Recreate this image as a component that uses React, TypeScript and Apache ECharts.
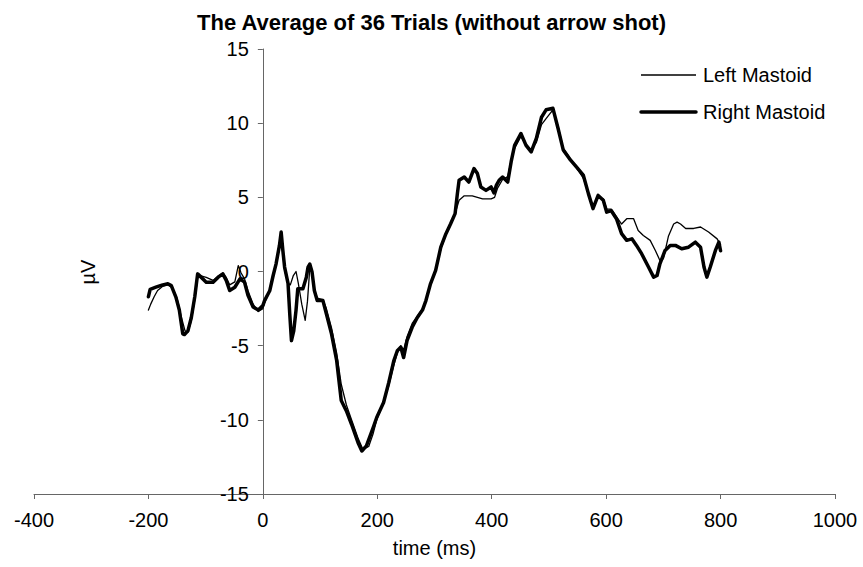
import React, { useEffect, useRef } from "react";
import * as echarts from "echarts";

const titleText = "The Average of 36 Trials (without arrow shot)";
const xName = "time (ms)";
const yName = "µV";
const seriesNames = ["Left Mastoid", "Right Mastoid"];

const leftTimes = [
  -200, -196, -190, -184, -175, -166, -158, -150, -143, -136, -131, -125, -119, -114, -108, -99, -87, -78, -70, -64,
  -58, -49, -43, -38, -32, -26, -17, -8, 0, 3, 12, 18, 23, 29, 32, 35, 38, 44, 48, 53, 58, 62, 68, 74, 78, 82, 86, 90,
  95, 105, 111, 120, 129, 137, 146, 155, 167, 175, 185, 193, 199, 211, 220, 229, 235, 241, 246, 252, 261, 270, 279,
  285, 293, 302, 311, 320, 328, 336, 343, 352, 366, 384, 399, 405, 410, 419, 428, 434, 440, 451, 460, 469, 478, 487,
  495, 507, 516, 525, 536, 548, 560, 569, 577, 586, 595, 601, 609, 618, 627, 636, 648, 656, 665, 677, 686, 694, 700,
  709, 718, 724, 730, 739, 753, 765, 779, 794, 800,
];
const leftValues = [
  -2.6, -2.2, -1.7, -1.28, -1.0, -0.9, -1.1, -1.8, -3.0, -4.0, -4.1, -3.3, -1.9, -0.4, -0.3, -0.4, -0.6, -0.3, -0.1,
  -0.4, -0.9, -0.7, 0.4, -0.1, -0.5, -1.3, -2.2, -2.7, -2.5, -2.1, -1.3, -0.4, 0.4, 1.6, 2.5, 1.3, 0.1, -0.8, -0.9,
  -0.3, 0.0, -0.8, -2.2, -3.3, -2.0, 0.2, -0.1, -1.2, -1.8, -1.9, -2.5, -3.8, -5.5, -7.6, -9.0, -10.0, -11.3, -12.0,
  -11.8, -10.9, -10.0, -8.8, -7.7, -6.3, -5.5, -5.0, -5.3, -4.4, -3.5, -3.0, -2.5, -2.0, -0.9, 0.0, 1.5, 2.5, 3.2, 3.9,
  4.8, 5.1, 5.1, 4.9, 4.9, 5.0, 5.6, 6.2, 6.4, 7.5, 8.3, 9.1, 8.6, 8.2, 8.7, 9.9, 10.3, 10.9, 9.8, 8.3, 7.7, 7.0, 6.3,
  5.3, 4.4, 5.0, 4.9, 4.2, 4.2, 3.7, 3.2, 3.56, 3.56, 2.77, 2.43, 2.1, 1.42, 0.74, 0.86, 2.4, 3.2, 3.33, 3.2, 2.9, 2.9,
  3.0, 2.66, 2.2, 1.8,
];

const rightTimes = [
  -200, -197, -187, -175, -166, -160, -152, -146, -140, -137, -131, -125, -119, -114, -108, -99, -87, -78, -70, -64,
  -58, -49, -40, -32, -26, -17, -8, 0, 3, 12, 18, 23, 29, 32, 35, 38, 44, 47, 50, 54, 58, 61, 70, 76, 79, 82, 86, 90,
  95, 105, 111, 120, 129, 137, 146, 155, 167, 173, 181, 193, 199, 211, 220, 229, 235, 241, 246, 252, 261, 270, 279,
  285, 293, 302, 311, 320, 328, 336, 340, 343, 352, 360, 369, 375, 381, 390, 399, 404, 408, 413, 419, 428, 434, 440,
  451, 460, 469, 478, 487, 495, 507, 516, 525, 536, 548, 560, 569, 577, 586, 595, 601, 609, 618, 627, 636, 645, 653,
  662, 674, 683, 689, 694, 703, 712, 721, 732, 744, 756, 765, 771, 776, 782, 791, 797, 800,
];
const rightValues = [
  -1.7, -1.2, -1.06, -0.9, -0.83, -0.95, -1.73, -2.6, -4.2, -4.25, -4.0, -3.1, -1.7, -0.16, -0.38, -0.72, -0.72, -0.38,
  -0.16, -0.6, -1.28, -1.06, -0.5, -0.72, -1.6, -2.4, -2.6, -2.3, -1.96, -1.3, -0.27, 0.5, 1.76, 2.66, 1.4, 0.3, -0.8,
  -2.86, -4.66, -4.0, -2.6, -1.17, -1.17, -0.38, 0.3, 0.5, -0.04, -1.28, -1.96, -1.96, -2.86, -4.2, -6.0, -8.7, -9.4,
  -10.3, -11.6, -12.1, -11.75, -10.5, -9.84, -8.83, -7.5, -6.0, -5.34, -5.1, -5.8, -4.66, -3.76, -3.1, -2.6, -1.96,
  -0.83, 0.07, 1.64, 2.55, 3.2, 3.9, 5.25, 6.15, 6.37, 6.03, 6.94, 6.6, 5.7, 5.47, 5.7, 5.3, 5.8, 6.15, 6.37, 6.03, 7.4,
  8.5, 9.3, 8.5, 8.06, 8.97, 10.4, 10.9, 11.0, 9.64, 8.2, 7.6, 7.05, 6.5, 5.25, 4.24, 5.13, 4.8, 4.0, 4.1, 3.56, 2.55,
  2.1, 2.2, 1.76, 1.2, 0.3, -0.38, -0.27, 0.52, 1.42, 1.76, 1.76, 1.53, 1.64, 1.98, 1.64, 0.3, -0.38, 0.3, 1.42, 1.98,
  1.4,
];

const FONT = "'Liberation Sans', Arial, sans-serif";
const X_MIN = -400;
const X_MAX = 1000;
const GRID_LEFT = 34;
const GRID_RIGHT = 28;
const WIDTH = 863;
const THIN = 1.3;
const THICK = 3.5;

export default function App() {
  const ref = useRef<HTMLDivElement>(null);
  useEffect(() => {
    if (!ref.current) return;
    const chart = echarts.init(ref.current, null, { renderer: "svg" });
    const axisColor = "#666";
    const gridW = WIDTH - GRID_LEFT - GRID_RIGHT;
    const yOffset = -((0 - X_MIN) / (X_MAX - X_MIN)) * gridW;
    chart.setOption({
      animation: false,
      backgroundColor: "#fff",
      title: {
        text: titleText,
        left: "center",
        top: 6,
        textStyle: { fontFamily: FONT, fontSize: 22, fontWeight: "bold", color: "#000" },
      },
      grid: {
        left: GRID_LEFT,
        right: GRID_RIGHT,
        top: 49,
        bottom: 73,
        containLabel: false,
        outerBoundsMode: "none",
      },
      xAxis: {
        type: "value",
        min: X_MIN,
        max: X_MAX,
        interval: 200,
        name: xName,
        nameLocation: "middle",
        nameGap: 44,
        nameTextStyle: { fontFamily: FONT, fontSize: 20, color: "#000" },
        axisLine: { onZero: false, lineStyle: { color: axisColor, width: 1 } },
        axisTick: { show: true, length: 5, inside: false, lineStyle: { color: axisColor } },
        axisLabel: {
          fontFamily: FONT,
          fontSize: 20,
          color: "#000",
          margin: 16,
          formatter: (v: number) => String(v),
        },
        splitLine: { show: false },
      },
      yAxis: {
        type: "value",
        min: -15,
        max: 15,
        interval: 5,
        offset: yOffset,
        axisLine: { show: true, onZero: false, lineStyle: { color: axisColor, width: 1 } },
        axisTick: { show: true, length: 5, inside: false, lineStyle: { color: axisColor } },
        axisLabel: { fontFamily: FONT, fontSize: 20, color: "#000", margin: 14 },
        splitLine: { show: false },
      },
      graphic: [
        {
          type: "text",
          x: 88,
          y: 272,
          rotation: Math.PI / 2,
          style: {
            text: yName,
            fontFamily: FONT,
            fontSize: 20,
            fill: "#000",
            align: "center",
            verticalAlign: "middle",
          },
        },
        {
          type: "line",
          shape: { x1: 641, y1: 75, x2: 696, y2: 75 },
          style: { stroke: "#000", lineWidth: THIN },
        },
        {
          type: "text",
          x: 703,
          y: 75,
          style: { text: seriesNames[0], fontFamily: FONT, fontSize: 20, fill: "#000", verticalAlign: "middle" },
        },
        {
          type: "line",
          shape: { x1: 641, y1: 112, x2: 696, y2: 112 },
          style: { stroke: "#000", lineWidth: THICK, lineCap: "round" },
        },
        {
          type: "text",
          x: 703,
          y: 112,
          style: { text: seriesNames[1], fontFamily: FONT, fontSize: 20, fill: "#000", verticalAlign: "middle" },
        },
      ],
      series: [
        {
          name: seriesNames[0],
          type: "line",
          symbol: "none",
          data: leftTimes.map((t, i) => [t, leftValues[i]]),
          lineStyle: { color: "#000", width: THIN, join: "round", cap: "round" },
          itemStyle: { color: "#000" },
          z: 3,
        },
        {
          name: seriesNames[1],
          type: "line",
          symbol: "none",
          data: rightTimes.map((t, i) => [t, rightValues[i]]),
          lineStyle: { color: "#000", width: THICK, join: "round", cap: "round" },
          itemStyle: { color: "#000" },
          z: 2,
        },
      ],
    });
    return () => chart.dispose();
  }, []);
  return <div ref={ref} style={{ width: 863, height: 567, position: "absolute", left: 0, top: 0 }} />;
}
